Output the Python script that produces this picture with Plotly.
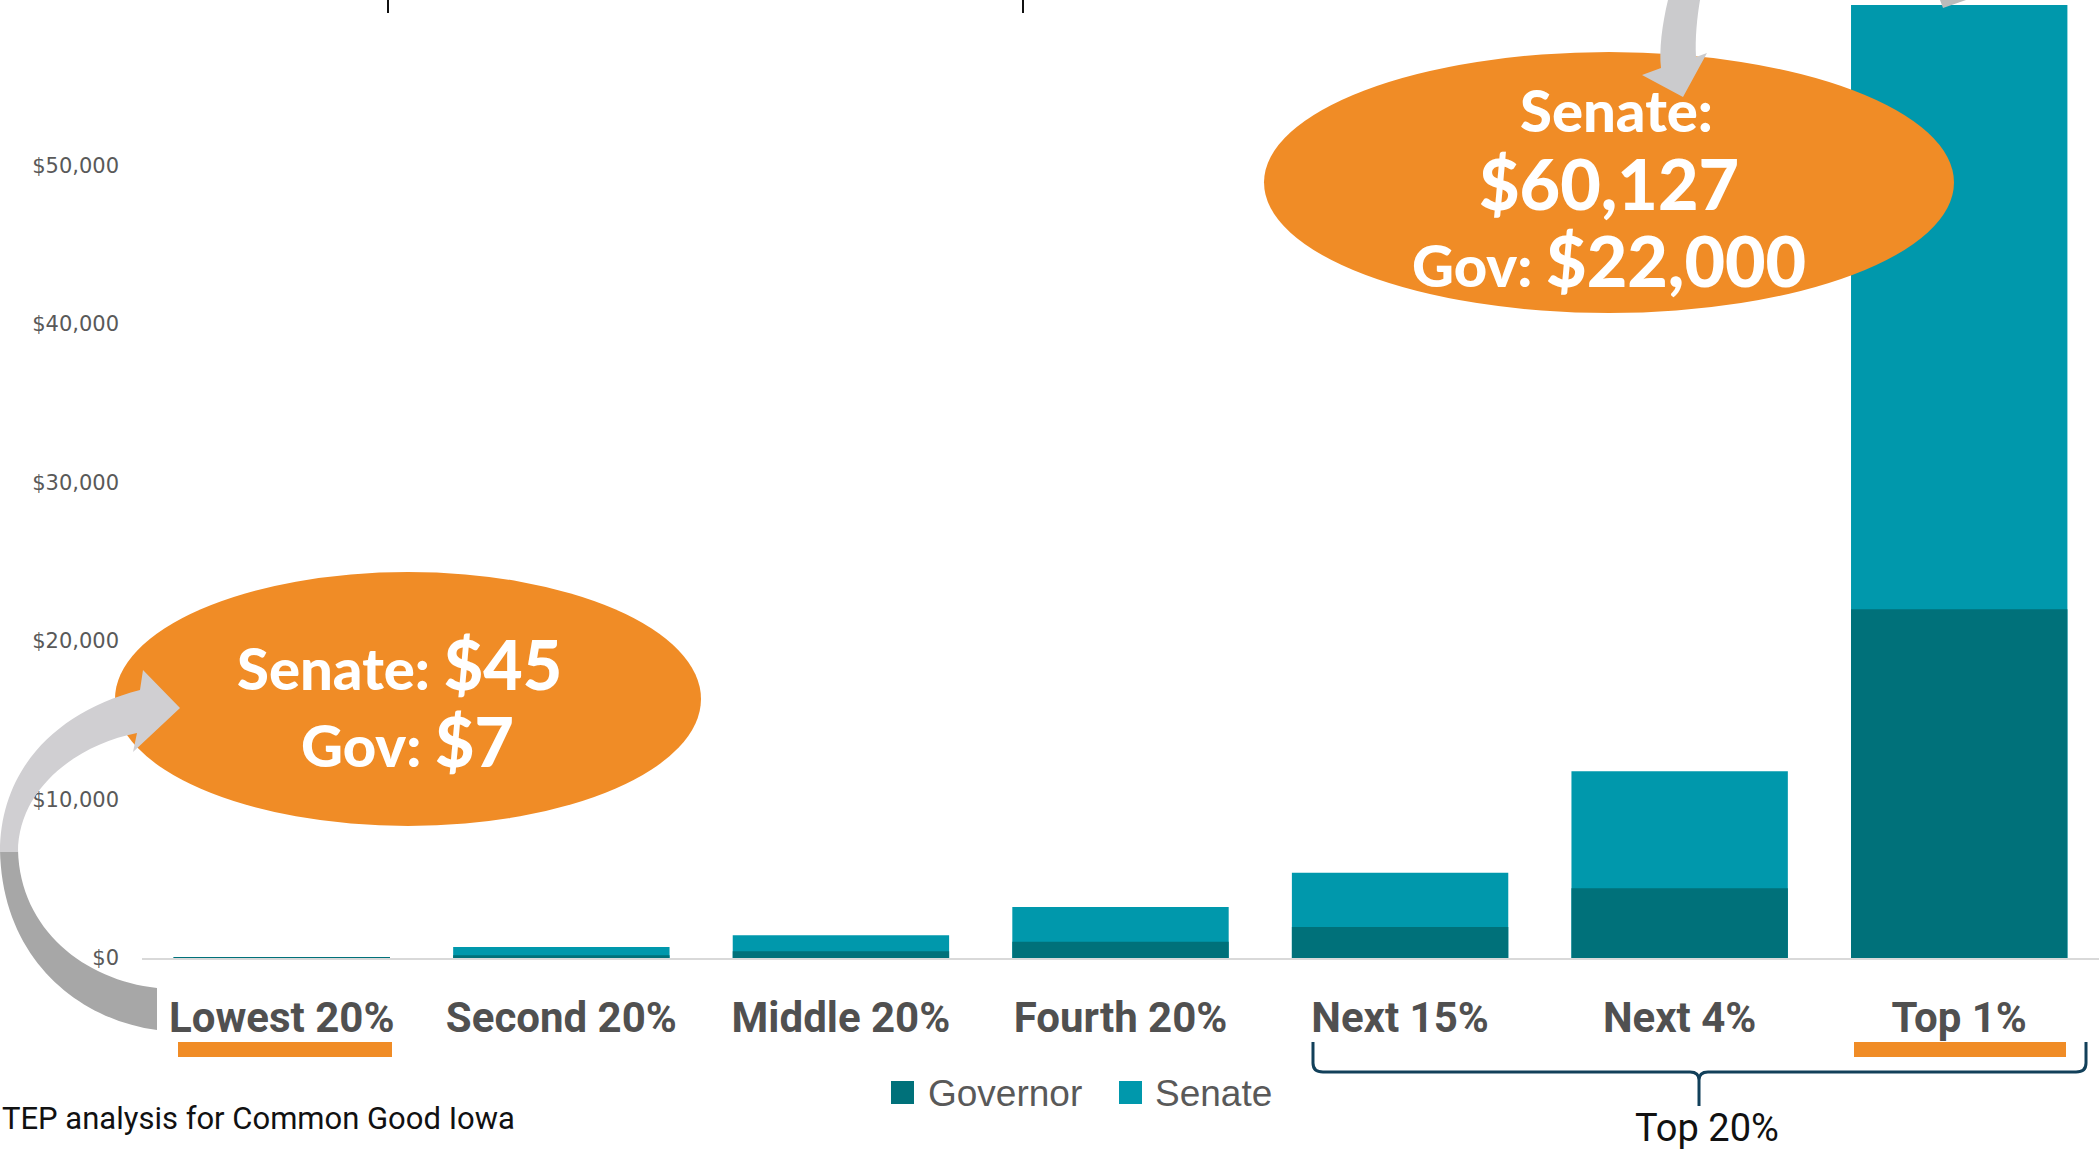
import plotly.graph_objects as go

# ---------------- data ----------------
categories = ["Lowest 20%", "Second 20%", "Middle 20%", "Fourth 20%", "Next 15%", "Next 4%", "Top 1%"]
senate = [45, 700, 1430, 3220, 5380, 11780, 60127]
governor = [7, 180, 420, 1030, 1950, 4400, 22000]
y_ticks = [0, 10000, 20000, 30000, 40000, 50000]
y_tick_labels = ["$0", "$10,000", "$20,000", "$30,000", "$40,000", "$50,000"]
series_names = ["Governor", "Senate"]

# ---------------- geometry helpers ----------------
W, H = 2099, 1152
PL, PR, PT, PB = 142, 2099, 0, 958   # plot area in pixels


def px(x):
    return (x - PL) / (PR - PL)


def py(y):
    return (PB - y) / (PB - PT)


def path(cmds):
    out = []
    for c in cmds:
        if isinstance(c, str):
            out.append(c)
        else:
            out.append(f"{px(c[0]):.5f},{py(c[1]):.5f}")
    return " ".join(out)


ORANGE = "#F08C26"
GOV = "#00717A"
SEN = "#0098AC"

fig = go.Figure()
fig.add_trace(go.Bar(x=categories, y=senate, name=series_names[1], showlegend=False,
                     marker=dict(color=SEN, line=dict(width=0))))
fig.add_trace(go.Bar(x=categories, y=governor, name=series_names[0], showlegend=False,
                     marker=dict(color=GOV, line=dict(width=0))))

shapes = []
# ellipses
shapes.append(dict(type="circle", xref="paper", yref="paper",
                   x0=px(115), x1=px(701), y0=py(826), y1=py(572),
                   fillcolor=ORANGE, line=dict(width=0), layer="above"))
shapes.append(dict(type="circle", xref="paper", yref="paper",
                   x0=px(1264), x1=px(1954), y0=py(313), y1=py(52),
                   fillcolor=ORANGE, line=dict(width=0), layer="above"))
# left curved arrow (dark lower part, light upper part)
shapes.append(dict(type="path", xref="paper", yref="paper", layer="above",
                   path=path(["M", (157, 988), "L", (157, 1030), "C", (80, 1020), (2, 960), (0, 850),
                              "L", (18, 850), "C", (20, 930), (85, 980), (157, 988), "Z"]),
                   fillcolor="#A7A7A7", line=dict(width=0)))
shapes.append(dict(type="path", xref="paper", yref="paper", layer="above",
                   path=path(["M", (0, 852), "C", (0, 770), (55, 712), (140, 690),
                              "L", (143, 670), "L", (180, 708), "L", (133, 752), "L", (137, 733),
                              "C", (75, 745), (18, 790), (18, 852), "Z"]),
                   fillcolor="#D0CFD2", line=dict(width=0)))
# top arrow into right ellipse
shapes.append(dict(type="path", xref="paper", yref="paper", layer="above",
                   path=path(["M", (1668, 0), "C", (1662, 25), (1659, 50), (1661, 68),
                              "L", (1642, 75), "L", (1683, 97), "L", (1707, 53), "L", (1696, 57),
                              "C", (1695, 38), (1697, 18), (1700, 0), "Z"]),
                   fillcolor="#CBCBCD", line=dict(width=0)))
shapes.append(dict(type="path", xref="paper", yref="paper", layer="above",
                   path=path(["M", (1940, 0), "L", (1943, 8), "L", (1966, 0), "Z"]),
                   fillcolor="#BBBBBB", line=dict(width=0)))
# title remnants (vertical separators)
for xv in (388, 1023):
    shapes.append(dict(type="line", xref="paper", yref="paper",
                       x0=px(xv), x1=px(xv), y0=py(0), y1=py(13),
                       line=dict(color="#111111", width=2)))
# orange underlines
for x0, x1 in ((178, 392), (1854, 2066)):
    shapes.append(dict(type="rect", xref="paper", yref="paper",
                       x0=px(x0), x1=px(x1), y0=py(1057), y1=py(1042),
                       fillcolor=ORANGE, line=dict(width=0)))
# bracket for Top 20%
shapes.append(dict(type="path", xref="paper", yref="paper",
                   path=path(["M", (1313, 1042), "L", (1313, 1063), "Q", (1313, 1072), (1323, 1072),
                              "L", (1690, 1072), "Q", (1699, 1072), (1699, 1080), "L", (1699, 1106),
                              "M", (1699, 1080), "Q", (1699, 1072), (1708, 1072),
                              "L", (2076, 1072), "Q", (2086, 1072), (2086, 1063), "L", (2086, 1042)]),
                   line=dict(color="#12405A", width=3)))

ELL_FONT = "Lato, 'Open Sans', sans-serif"
annotations = []


def ell_text(txt, xc, yc):
    annotations.append(dict(text=txt, xref="paper", yref="paper", x=px(xc), y=py(yc),
                            xanchor="center", yanchor="middle", showarrow=False,
                            font=dict(family=ELL_FONT, size=58, color="white", weight=900)))


ell_text("Senate: <span style='font-size:68px'>$45</span>", 399, 663)
ell_text("Gov: <span style='font-size:68px'>$7</span>", 407, 740)
ell_text("Senate:", 1616, 110)
ell_text("<span style='font-size:70px'>$60,127</span>", 1609, 183)
ell_text("Gov: <span style='font-size:70px'>$22,000</span>", 1609, 260)

NARROW = "Roboto, 'Liberation Sans', sans-serif"
annotations.append(dict(text="TEP analysis for Common Good Iowa", xref="paper", yref="paper",
                        x=px(0), y=py(1118), xanchor="left", yanchor="middle", showarrow=False,
                        font=dict(family=NARROW, size=31, color="#111111")))
annotations.append(dict(text="Top 20%", xref="paper", yref="paper",
                        x=px(1707), y=py(1128), xanchor="center", yanchor="middle", showarrow=False,
                        font=dict(family=NARROW, size=38, color="#111111")))

# legend (squares + real text labels)
legend_items = [(series_names[0], GOV, 891, 926), (series_names[1], SEN, 1119, 1153)]
for name, col, sx, tx in legend_items:
    shapes.append(dict(type="rect", xref="paper", yref="paper",
                       x0=px(sx), x1=px(sx + 23), y0=py(1104), y1=py(1081),
                       fillcolor=col, line=dict(width=0)))
    annotations.append(dict(text=name, xref="paper", yref="paper", x=px(tx), y=py(1093),
                            xanchor="left", yanchor="middle", showarrow=False,
                            font=dict(family="'Liberation Sans', Arial, sans-serif", size=37,
                                      color="#595959")))

fig.update_layout(
    width=W, height=H,
    margin=dict(l=PL, r=W - PR, t=PT, b=H - PB, autoexpand=False),
    barmode="overlay", bargap=0.226,
    plot_bgcolor="white", paper_bgcolor="white",
    shapes=shapes, annotations=annotations,
    showlegend=False,
    xaxis=dict(type="category", showgrid=False, showline=True, linecolor="#D9D9D9", linewidth=2,
               ticks="", ticklabelstandoff=22, tickangle=0,
               tickfont=dict(family="Roboto, 'Liberation Sans', sans-serif", size=42,
                             color="#505050", weight="bold")),
    yaxis=dict(range=[0, 60442], showgrid=False, zeroline=False, showline=False,
               tickmode="array", tickvals=y_ticks, ticktext=y_tick_labels, ticks="",
               ticklabelstandoff=22,
               tickfont=dict(family="'DejaVu Sans', Verdana, sans-serif", size=21, color="#595959")),
)

fig.write_html("out.html", config={"displayModeBar": False},
               post_script="document.body.style.margin='0';document.body.style.overflow='hidden';")
